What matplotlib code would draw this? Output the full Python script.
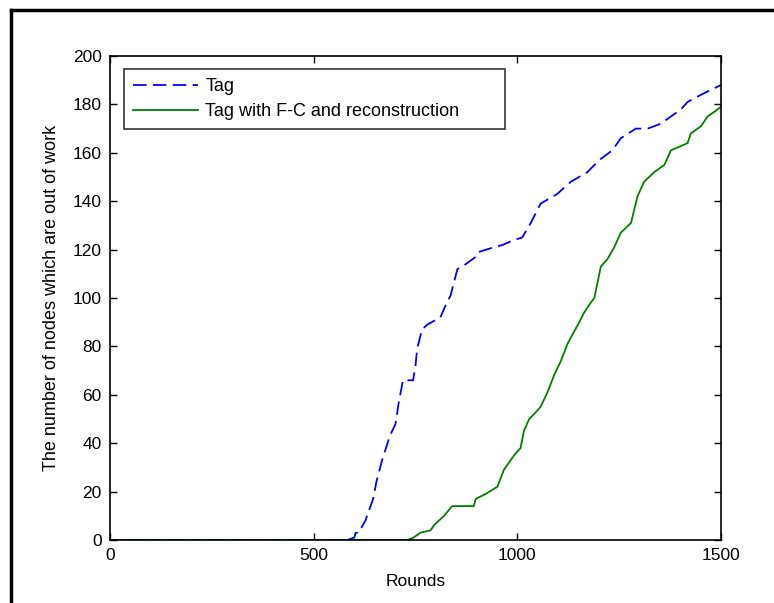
import matplotlib.pyplot as plt
from matplotlib.lines import Line2D

plt.rcParams['font.family'] = ['Liberation Sans', 'DejaVu Sans']

# Tag (blue dashed)
tag_x = [0, 582, 600, 603, 610, 627, 646, 654, 668, 687, 701, 709, 717, 719, 744, 750, 754, 766,
         779, 811, 824, 836, 853, 865, 898, 905, 943, 965, 992, 1012, 1033, 1057, 1098,
         1131, 1172, 1201, 1233, 1254, 1291, 1320, 1352, 1377, 1402, 1418, 1451, 1475, 1500]
tag_y = [0, 0, 1, 3, 3, 8, 17, 24, 33, 43, 48, 57, 64, 66, 66, 72, 79, 87,
         89, 92, 97, 101, 112, 113, 117, 119, 121, 122, 124, 125, 131, 139, 143,
         148, 152, 157, 161, 166, 170, 170, 172, 175, 178, 181, 184, 186, 188]

# Tag with F-C and reconstruction (green solid)
fc_x = [0, 730, 745, 762, 787, 795, 820, 840, 893, 898, 922, 951, 967, 992, 1008, 1016,
        1029, 1041, 1057, 1074, 1090, 1107, 1123, 1139, 1152, 1164, 1180, 1189, 1205,
        1221, 1238, 1254, 1279, 1295, 1311, 1336, 1361, 1377, 1418, 1426, 1451, 1467,
        1484, 1500]
fc_y = [0, 0, 1, 3, 4, 6, 10, 14, 14, 17, 19, 22, 29, 35, 38, 45,
        50, 52, 55, 61, 68, 74, 81, 86, 90, 94, 98, 100, 113,
        116, 121, 127, 131, 142, 148, 152, 155, 161, 164, 168, 171, 175,
        177, 179]

legend_labels = ['Tag', 'Tag with F-C and reconstruction']

fig = plt.figure(figsize=(7.74, 6.03), dpi=100)
ax = fig.add_axes([110 / 774, 1 - 540 / 603, 611 / 774, 484 / 603])

ax.plot(tag_x, tag_y, color='#0000ff', linestyle=(0, (7.5, 3.5)), linewidth=1.3,
        label=legend_labels[0])
ax.plot(fc_x, fc_y, color='#008000', linestyle='-', linewidth=1.3,
        label=legend_labels[1])

ax.set_xlim(0, 1500)
ax.set_ylim(0, 200)
ax.set_xticks([0, 500, 1000, 1500])
ax.set_yticks(range(0, 201, 20))
ax.tick_params(direction='in', top=True, right=True, length=5, width=1,
               labelsize=12.5, pad=6)
for s in ax.spines.values():
    s.set_linewidth(1.2)

ax.set_xlabel('Rounds', fontsize=12.5, labelpad=8)
ax.set_ylabel('The number of nodes which are out of work', fontsize=13, labelpad=9)

# legend box spans 124..505 px horizontally, top at 69 px
leg = ax.legend(loc='upper left', bbox_to_anchor=(14 / 611, 0, 381 / 611, 1 - 13 / 484),
                mode='expand', frameon=True, fancybox=False, fontsize=13,
                handlelength=3.6, borderpad=0.5, labelspacing=0.45,
                handletextpad=0.4, borderaxespad=0)
leg.get_frame().set_edgecolor('black')
leg.get_frame().set_linewidth(1.2)

# page frame (left and top lines)
fig.add_artist(Line2D([11 / 774, 11 / 774], [0, 1 - 10 / 603], color='black',
                      linewidth=2.5, transform=fig.transFigure))
fig.add_artist(Line2D([11 / 774, 1], [1 - 10 / 603, 1 - 10 / 603], color='black',
                      linewidth=2.5, transform=fig.transFigure))

fig.savefig('out.png', dpi=100)
